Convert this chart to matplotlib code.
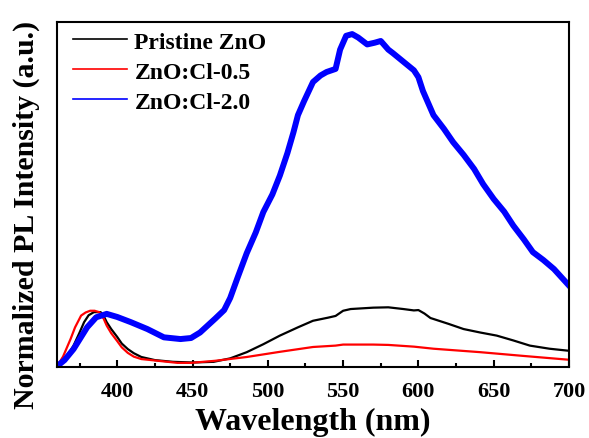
import matplotlib
matplotlib.use("Agg")
import matplotlib.pyplot as plt
from matplotlib.ticker import MultipleLocator

# wavelength (nm) / normalized intensity
wl_pristine = [360, 365, 371, 375, 378, 381, 384.5, 389, 391, 393, 396, 400, 403, 407,
               411, 416, 425, 437, 450, 464, 475, 486, 497, 508, 520, 530, 540, 545,
               550, 555, 570, 580, 590, 597, 600, 604, 608, 620, 630, 641, 652, 663,
               674, 687, 700]
int_pristine = [0.002, 0.02, 0.062, 0.10, 0.13, 0.15, 0.159, 0.159, 0.148, 0.13, 0.11,
                0.087, 0.068, 0.052, 0.04, 0.029, 0.02, 0.015, 0.013, 0.015, 0.025,
                0.043, 0.066, 0.091, 0.115, 0.134, 0.143, 0.148, 0.163, 0.168, 0.172,
                0.173, 0.168, 0.164, 0.165, 0.155, 0.142, 0.125, 0.110, 0.10, 0.091,
                0.077, 0.062, 0.053, 0.047]

wl_cl05 = [360, 364, 369, 372, 376, 379, 382, 385, 388, 391, 393, 396, 400, 403, 407,
           411, 416, 427, 440, 449, 465, 486, 508, 530, 545, 550, 570, 580, 597, 610,
           641, 670, 700]
int_cl05 = [0.002, 0.03, 0.081, 0.115, 0.149, 0.158, 0.163, 0.163, 0.159, 0.14, 0.12,
            0.098, 0.075, 0.057, 0.041, 0.03, 0.023, 0.018, 0.012, 0.012, 0.018, 0.029,
            0.044, 0.058, 0.062, 0.065, 0.065, 0.064, 0.059, 0.053, 0.043, 0.032, 0.021]

wl_cl20 = [360, 365, 371, 375, 380, 386, 393, 400, 409, 420, 431, 442, 449, 455, 460,
           465, 471, 475, 480, 486, 492, 497, 503, 508, 513, 517, 520, 524, 530, 535,
           539, 545, 548, 552, 556, 560, 566, 571, 575, 580, 583, 590, 597, 600, 603,
           607, 610, 617, 623, 630, 637, 643, 650, 657, 663, 670, 676, 683, 690, 695, 700]
int_cl20 = [0.002, 0.02, 0.052, 0.08, 0.115, 0.144, 0.154, 0.145, 0.13, 0.11, 0.086,
            0.081, 0.084, 0.10, 0.12, 0.14, 0.165, 0.2, 0.26, 0.33, 0.39, 0.449, 0.50,
            0.555, 0.62, 0.68, 0.73, 0.77, 0.826, 0.845, 0.855, 0.864, 0.92, 0.96, 0.965,
            0.955, 0.935, 0.94, 0.945, 0.92, 0.91, 0.885, 0.86, 0.84, 0.80, 0.76, 0.73,
            0.69, 0.652, 0.615, 0.574, 0.53, 0.487, 0.45, 0.41, 0.37, 0.333, 0.31, 0.284,
            0.26, 0.236]

labels = ["Pristine ZnO", "ZnO:Cl-0.5", "ZnO:Cl-2.0"]

plt.rcParams["font.family"] = "Liberation Serif"
plt.rcParams["font.weight"] = "bold"

fig = plt.figure(figsize=(5.89, 4.39), dpi=100)
ax = fig.add_axes([57/589, 71/439, 512/589, 345/439])

ax.plot(wl_pristine, int_pristine, color="black", lw=1.6, label=labels[0])
ax.plot(wl_cl05, int_cl05, color="red", lw=1.6, label=labels[1])
ax.plot(wl_cl20, int_cl20, color="blue", lw=4.3, label=labels[2])

ax.set_xlim(360, 700)
ax.set_ylim(0, 1.0)
ax.set_yticks([])
ax.xaxis.set_major_locator(MultipleLocator(50))
ax.xaxis.set_minor_locator(MultipleLocator(25))
ax.tick_params(axis="x", which="major", direction="in", length=5, width=1.5,
               labelsize=16, pad=10)
ax.tick_params(axis="x", which="minor", direction="in", length=3, width=1.5)
for s in ax.spines.values():
    s.set_linewidth(1.5)

ax.set_xlabel("Wavelength (nm)", fontsize=23, fontweight="bold", labelpad=4)
ax.set_ylabel("Normalized PL Intensity (a.u.)", fontsize=21.5, fontweight="bold")
ax.yaxis.set_label_coords(-0.033, 0.443)

leg = ax.legend(loc="upper left", bbox_to_anchor=(16/512, 1 - 9/345), frameon=False,
                fontsize=17, handlelength=2.3, handletextpad=0.3, labelspacing=0.36,
                borderaxespad=0, borderpad=0)
for line in leg.get_lines():
    line.set_linewidth(1.2)

fig.savefig("out.png", dpi=100)
